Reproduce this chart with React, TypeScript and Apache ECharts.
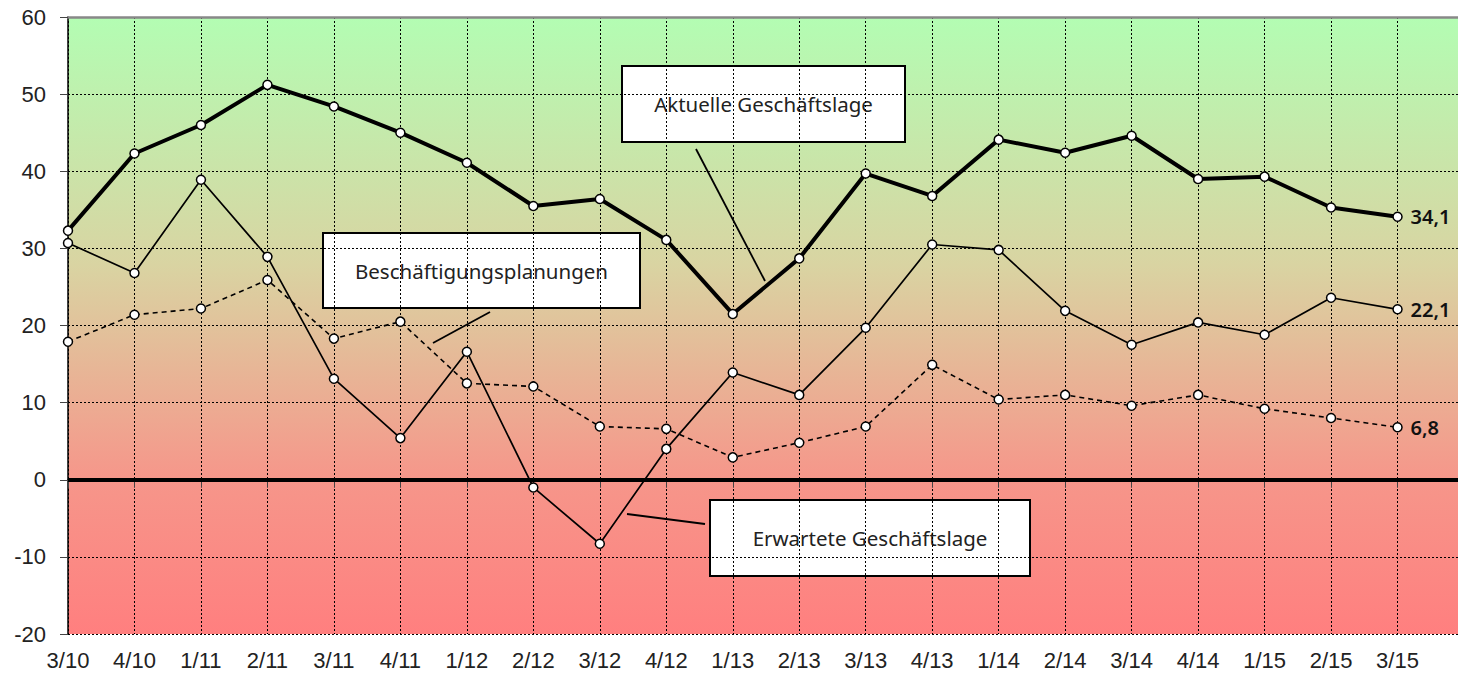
import React, { useEffect, useRef } from "react";
import * as echarts from "echarts";

const categories = ["3/10","4/10","1/11","2/11","3/11","4/11","1/12","2/12","3/12","4/12","1/13","2/13","3/13","4/13","1/14","2/14","3/14","4/14","1/15","2/15","3/15",""];
const aktuelle = [32.3,42.3,46.0,51.2,48.4,45.0,41.1,35.5,36.4,31.1,21.5,28.7,39.7,36.8,44.1,42.4,44.6,39.0,39.3,35.3,34.1];
const erwartete = [30.7,26.8,38.9,28.9,13.1,5.4,16.6,-1.0,-8.3,4.0,13.9,11.0,19.7,30.5,29.8,21.9,17.5,20.4,18.8,23.6,22.1];
const beschaeftigung = [17.9,21.4,22.2,25.9,18.3,20.5,12.5,12.1,6.9,6.6,2.9,4.8,6.9,14.9,10.4,11.0,9.6,11.0,9.2,8.0,6.8];
const endLabels = ["34,1","22,1","6,8"];
const yTicks = { min: -20, max: 60, interval: 10 };

export default function App() {
  const ref = useRef<HTMLDivElement>(null);
  useEffect(() => {
    document.body.style.margin = "0";
    const chart = echarts.init(ref.current!, null, { renderer: "svg" });
    const marker = { symbol: "circle", symbolSize: 9, itemStyle: { color: "#fff", borderColor: "#000", borderWidth: 1.5 } };
    const endLabel = (txt: string) => ({
      show: true,
      formatter: () => txt,
      color: "#111",
      fontSize: 20,
      fontWeight: 600,
      fontFamily: "Noto Sans",
      distance: 13,
    });
    const boxText = { fontFamily: "Noto Sans", fontSize: 20.5, fill: "#222" };
    const box = (x: number, y: number, w: number, h: number, text: string) => ({
      type: "group",
      children: [
        { type: "rect", shape: { x, y, width: w, height: h }, style: { fill: "#fff", stroke: "#000", lineWidth: 2 } },
        { type: "text", x: x + w / 2, y: y + h / 2, style: { ...boxText, text, align: "center", verticalAlign: "middle" } },
      ],
      z: 100,
    });
    const leader = (x1: number, y1: number, x2: number, y2: number) => ({
      type: "line", shape: { x1, y1, x2, y2 }, style: { stroke: "#000", lineWidth: 1.8 }, z: 100,
    });
    chart.setOption({
      animation: false,
      grid: { left: 68, width: 1396, top: 17, bottom: 44, show: true, borderWidth: 0,
        outerBoundsMode: "none", containLabel: false,
        backgroundColor: new echarts.graphic.LinearGradient(0, 0, 0, 1, [
          { offset: 0, color: "#b3fdb3" },
          { offset: 0.4, color: "#d9d4a2" },
          { offset: 0.75, color: "#f6968a" },
          { offset: 1, color: "#ff7f7f" },
        ]) },
      xAxis: [
        {
          type: "category", data: categories, boundaryGap: false,
          axisLine: { lineStyle: { color: "#000", width: 1.5 } },
          axisTick: { show: true, length: 8, lineStyle: { color: "#444" }, interval: (i: number) => i < categories.length - 1 },
          axisLabel: { color: "#222", fontSize: 22, fontFamily: "Liberation Sans", margin: 15, interval: 0 },
          splitLine: { show: true, interval: 0, lineStyle: { color: "#000", type: [2, 2], width: 1 } },
        },
        {
          type: "category", data: categories, boundaryGap: false, position: "top",
          axisLine: { show: true, lineStyle: { color: "#888", width: 2.5 } },
          axisTick: { show: false }, axisLabel: { show: false }, splitLine: { show: false },
        },
      ],
      yAxis: {
        type: "value", min: yTicks.min, max: yTicks.max, interval: yTicks.interval,
        axisLine: { show: true, lineStyle: { color: "#000", width: 1.5 } },
        axisTick: { show: true, length: 8, lineStyle: { color: "#444" } },
        axisLabel: { color: "#222", fontSize: 22, fontFamily: "Liberation Sans", margin: 22 },
        splitLine: { show: true, lineStyle: { color: "#000", type: [2, 2], width: 1 } },
      },
      series: [
        {
          name: "Beschäftigungsplanungen", type: "line", data: beschaeftigung, ...marker,
          lineStyle: { color: "#000", width: 1.6, type: [5, 4] }, z: 3,
          endLabel: endLabel(endLabels[2]),
          markLine: {
            silent: true, symbol: "none", label: { show: false },
            lineStyle: { color: "#000", width: 4, type: "solid" },
            data: [{ yAxis: 0 }],
          },
        },
        {
          name: "Erwartete Geschäftslage", type: "line", data: erwartete, ...marker,
          lineStyle: { color: "#000", width: 1.7 }, z: 4,
          endLabel: endLabel(endLabels[1]),
        },
        {
          name: "Aktuelle Geschäftslage", type: "line", data: aktuelle, ...marker,
          lineStyle: { color: "#000", width: 4 }, z: 5,
          endLabel: endLabel(endLabels[0]),
        },
      ],
      graphic: [
        leader(696, 149, 765, 281),
        leader(490, 312, 433, 343),
        leader(627, 514, 705, 524),
        box(622, 66, 283, 76, "Aktuelle Geschäftslage"),
        box(323, 233, 317, 75, "Beschäftigungsplanungen"),
        box(710, 500, 320, 76, "Erwartete Geschäftslage"),
      ],
    });
    return () => chart.dispose();
  }, []);
  return <div ref={ref} style={{ width: 1458, height: 678 }} />;
}
